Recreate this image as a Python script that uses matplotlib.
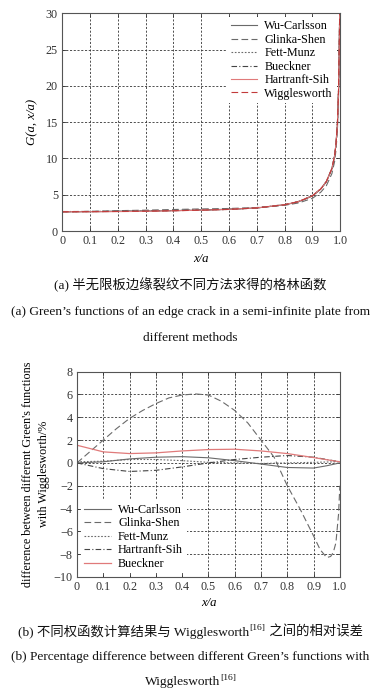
import matplotlib
matplotlib.use('Agg')
import matplotlib.pyplot as plt

plt.rcParams['font.family'] = ['Liberation Serif', 'Noto Sans CJK SC']
plt.rcParams['axes.unicode_minus'] = True

# ---------------- data: panel (a) ----------------
x_top = [0, 0.1, 0.2, 0.3, 0.4, 0.5, 0.6, 0.7, 0.8, 0.85, 0.9, 0.93, 0.95,
         0.97, 0.98, 0.985, 0.99, 0.994, 0.997, 0.998]
g_wu_carlsson = [2.65, 2.67, 2.71, 2.75, 2.82, 2.89, 2.99, 3.18, 3.61, 4.03, 4.83,
                 5.78, 6.78, 8.58, 10.39, 12.1, 14.9, 19.5, 27.0, 30.0]
g_glinka_shen = [2.65, 2.72, 2.81, 2.88, 2.97, 3.05, 3.11, 3.24, 3.55, 3.87, 4.51,
                 5.35, 6.24, 7.91, 9.62, 11.25, 14.0, 18.7, 26.3, 29.4]
g_fett_munz = [2.65, 2.68, 2.71, 2.75, 2.81, 2.88, 2.98, 3.18, 3.62, 4.05, 4.85,
               5.80, 6.80, 8.60, 10.4, 12.1, 14.9, 19.5, 27.0, 30.0]
g_bueckner = [2.69, 2.70, 2.72, 2.76, 2.83, 2.91, 3.01, 3.21, 3.65, 4.08, 4.87,
              5.82, 6.82, 8.62, 10.42, 12.11, 14.91, 19.52, 27.02, 30.0]
g_hartranft_sih = [2.65, 2.66, 2.68, 2.72, 2.79, 2.88, 2.99, 3.20, 3.64, 4.07, 4.87,
                   5.82, 6.82, 8.62, 10.42, 12.11, 14.9, 19.5, 27.0, 30.0]
g_wigglesworth = [2.65, 2.67, 2.70, 2.74, 2.80, 2.88, 2.98, 3.18, 3.62, 4.05, 4.85,
                  5.80, 6.80, 8.60, 10.4, 12.1, 14.9, 19.5, 27.0, 30.0]

# ---------------- data: panel (b) ----------------
x_gs = [0, 0.05, 0.1, 0.15, 0.2, 0.25, 0.3, 0.35, 0.4, 0.45, 0.5, 0.55, 0.6, 0.65,
        0.7, 0.75, 0.8, 0.85, 0.9, 0.925, 0.95, 0.965, 0.975, 0.985, 0.995, 1.0]
d_glinka_shen = [0, 1.0, 2.0, 3.0, 3.9, 4.6, 5.2, 5.7, 5.95, 6.05, 5.95, 5.4, 4.6, 3.5,
                 2.0, 0.5, -2.0, -4.1, -6.4, -7.6, -8.3, -8.2, -7.85, -7.0, -4.5, -2.0]
x_bot = [0, 0.1, 0.2, 0.3, 0.4, 0.5, 0.6, 0.7, 0.8, 0.9, 0.95, 1.0]
d_wu_carlsson = [0, 0.1, 0.35, 0.5, 0.55, 0.45, 0.2, -0.1, -0.4, -0.45, -0.25, 0.0]
d_fett_munz = [0.1, 0.15, 0.3, 0.3, 0.2, 0.05, 0.0, -0.05, 0.0, 0.05, 0.08, 0.1]
d_hartranft_sih = [0, -0.5, -0.75, -0.65, -0.35, 0.0, 0.3, 0.5, 0.65, 0.5, 0.3, 0.1]
d_bueckner = [1.55, 0.97, 0.82, 0.88, 1.05, 1.17, 1.2, 1.05, 0.82, 0.47, 0.28, 0.1]

xticks = [0, 0.1, 0.2, 0.3, 0.4, 0.5, 0.6, 0.7, 0.8, 0.9, 1.0]
xticklabels = ['0', '0.1', '0.2', '0.3', '0.4', '0.5', '0.6', '0.7', '0.8', '0.9', '1.0']
yticks_top = [0, 5, 10, 15, 20, 25, 30]
yticks_bot = [-10, -8, -6, -4, -2, 0, 2, 4, 6, 8]

GRAY = '#6a6a6a'
DGRAY = '#444444'
RED_L = '#e07a7a'
RED_D = '#c23a3a'
FS = 8.7

fig = plt.figure(figsize=(3.81, 6.96), dpi=100)


def style_axes(ax, yt):
    ax.set_xlim(0, 1.0)
    ax.set_xticks(xticks)
    ax.set_xticklabels(xticklabels)
    ax.set_yticks(yt)
    ax.set_ylim(yt[0], yt[-1])
    ax.tick_params(direction='in', top=True, right=True, labelsize=FS,
                   length=3, width=0.6, colors='#333333', pad=3)
    ax.grid(True, color='#333333', linestyle=(0, (2.5, 2)), linewidth=0.6)
    for s in ax.spines.values():
        s.set_color('#555555')
        s.set_linewidth(0.8)


# ---------- panel (a) ----------
ax1 = fig.add_axes([0.163, 0.668, 0.730, 0.313])
ax1.plot(x_top, g_wu_carlsson, color=GRAY, lw=0.8, ls='-', label='Wu-Carlsson')
ax1.plot(x_top, g_glinka_shen, color=GRAY, lw=0.8, ls=(0, (6, 3)), label='Glinka-Shen')
ax1.plot(x_top, g_fett_munz, color=GRAY, lw=0.8, ls=(0, (1.5, 1.5)), label='Fett-Munz')
ax1.plot(x_top, g_bueckner, color=DGRAY, lw=0.8, ls=(0, (5, 2, 1, 2)), label='Bueckner')
ax1.plot(x_top, g_hartranft_sih, color=RED_L, lw=0.8, ls='-', label='Hartranft-Sih')
ax1.plot(x_top, g_wigglesworth, color=RED_D, lw=0.8, ls=(0, (6, 3)), label='Wigglesworth')
style_axes(ax1, yticks_top)
ax1.set_xlabel('x/a', fontsize=FS + 0.5, fontstyle='italic', labelpad=4)
ax1.set_ylabel('G(a, x/a)', fontsize=FS + 0.5, fontstyle='italic', labelpad=5)
leg1 = ax1.legend(loc='upper right', fontsize=FS, frameon=True, framealpha=1,
                  edgecolor='none', facecolor='white', handlelength=2.2,
                  labelspacing=0.12, borderpad=0.3, borderaxespad=0.3,
                  handletextpad=0.6, fancybox=False)

# ---------- panel (b) ----------
ax2 = fig.add_axes([0.202, 0.171, 0.690, 0.295])
ax2.plot(x_bot, d_wu_carlsson, color=GRAY, lw=0.8, ls='-', label='Wu-Carlsson')
ax2.plot(x_gs, d_glinka_shen, color=GRAY, lw=0.8, ls=(0, (6, 3)), label='Glinka-Shen')
ax2.plot(x_bot, d_fett_munz, color=GRAY, lw=0.8, ls=(0, (1.5, 1.5)), label='Fett-Munz')
ax2.plot(x_bot, d_hartranft_sih, color=DGRAY, lw=0.8, ls=(0, (5, 2, 1, 2)), label='Hartranft-Sih')
ax2.plot(x_bot, d_bueckner, color=RED_L, lw=0.9, ls='-', label='Bueckner')
style_axes(ax2, yticks_bot)
ax2.set_xlabel('x/a', fontsize=FS + 0.5, fontstyle='italic', labelpad=3)
ax2.set_ylabel("difference between different Green's functions\nwith Wigglesworth/%",
               fontsize=FS, labelpad=3, linespacing=1.35)
leg2 = ax2.legend(loc='lower left', fontsize=FS, frameon=True, framealpha=1,
                  edgecolor='none', facecolor='white', handlelength=2.2,
                  labelspacing=0.12, borderpad=0.3, borderaxespad=0.3,
                  handletextpad=0.6, fancybox=False)

# ---------- captions ----------
renderer = fig.canvas.get_renderer()
W, H = 381.0, 696.0


def caption(y_px, segments, cx=190.5):
    """segments: list of (text, fontsize, raise_px)."""
    widths = []
    for txt, fs, dy in segments:
        t = fig.text(0, 0, txt, fontsize=fs)
        widths.append(t.get_window_extent(renderer).width)
        t.remove()
    x = cx - sum(widths) / 2.0
    for (txt, fs, dy), w in zip(segments, widths):
        fig.text(x / W, 1 - (y_px - dy) / H, txt, fontsize=fs, va='center', ha='left',
                 color='#111111')
        x += w


CF = 9.6
SF = 6.8
caption(285, [('(a) 半无限板边缘裂纹不同方法求得的格林函数', CF, 0)])
caption(312, [('(a) Green\u2019s functions of an edge crack in a semi-infinite plate from', CF, 0)])
caption(338, [('different methods', CF, 0)])
caption(632, [('(b) 不同权函数计算结果与 Wigglesworth', CF, 0), ('[16]', SF, 4),
              (' 之间的相对误差', CF, 0)])
caption(657, [('(b) Percentage difference between different Green\u2019s functions with', CF, 0)])
caption(682, [('Wigglesworth', CF, 0), ('[16]', SF, 4)])

fig.savefig('out.png', dpi=100)
